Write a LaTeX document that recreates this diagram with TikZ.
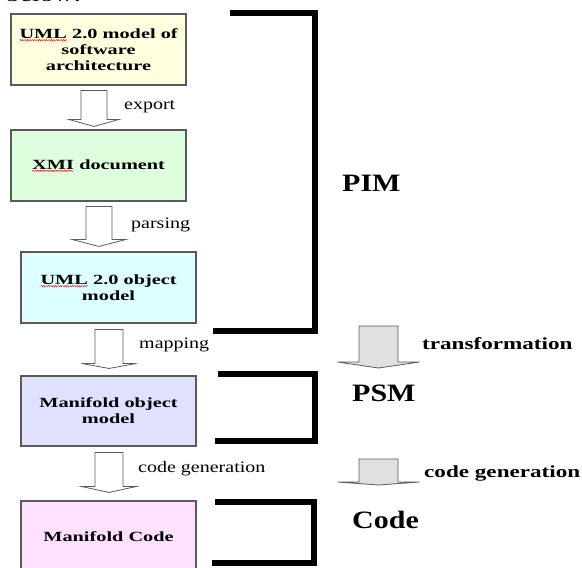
\documentclass[tikz,border=0pt]{standalone}
\usepackage{fontspec}
\setmainfont{Liberation Serif}
\newfontfamily\boxfont{Liberation Serif}[FakeStretch=1.45]
\newfontfamily\lblfont{Liberation Serif}[FakeStretch=1.25]
\newfontfamily\rlblfont{Liberation Serif}[FakeStretch=1.36]
\newfontfamily\bigfont{Liberation Serif}[FakeStretch=1.2]
\usetikzlibrary{calc,decorations.pathmorphing}
\definecolor{cyellow}{RGB}{255,255,224}
\definecolor{cgreen}{RGB}{221,255,221}
\definecolor{ccyan}{RGB}{221,255,255}
\definecolor{cviolet}{RGB}{224,224,255}
\definecolor{cpink}{RGB}{255,224,255}
\definecolor{cgreyarrow}{RGB}{224,224,224}
\definecolor{cborder}{RGB}{90,90,90}
\newcommand\blkarrow[6]{%
  \draw[#1] ($(#2)+(-#4,0)$) -- ($(#2 |- #3)+(-#4,-#6)$) -- ($(#2 |- #3)+(-#5,-#6)$)
    -- (#2 |- #3) -- ($(#2 |- #3)+(#5,-#6)$) -- ($(#2 |- #3)+(#4,-#6)$)
    -- ($(#2)+(#4,0)$) -- cycle;}
\newcommand\spl[1]{\tikz[baseline=(w.base)]{\node[inner sep=0pt,outer sep=0pt,draw=none,fill=none,
   minimum width=0pt,minimum height=0pt,align=left](w){#1};
  \draw[red,line width=0.45pt,decorate,decoration={snake,amplitude=0.6pt,segment length=2.4pt}]
   ([yshift=-1.8pt]w.base west)--([yshift=-1.8pt]w.base east);}}
\tikzset{
  box/.style={draw=cborder, line width=1.1pt, minimum width=175pt, align=center,
    font=\boxfont\bfseries\fontsize{14}{16}\selectfont, inner sep=0pt},
  harrow/.style={draw=cborder, line width=0.8pt, fill=white, line join=miter},
  garrow/.style={draw=cborder, line width=0.8pt, fill=cgreyarrow, line join=miter},
  lbl/.style={anchor=base west, inner sep=0pt, font=\lblfont\fontsize{16}{18}\selectfont},
  rlbl/.style={anchor=base west, inner sep=0pt, font=\rlblfont\bfseries\fontsize{17}{19}\selectfont},
  biglbl/.style={anchor=base west, inner sep=0pt, font=\bigfont\bfseries\fontsize{25}{28}\selectfont},
  brk/.style={line width=6pt, black}
}
\begin{document}
\begin{tikzpicture}[x=1pt,y=-1pt]
\path[use as bounding box] (0,0) rectangle (582,568);
\clip (0,0) rectangle (582,568);
\node[anchor=base west, inner sep=0pt, font=\boxfont\fontsize{19}{21}\selectfont] (below) at (6,1.5) {below:};
% boxes
\node[box, fill=cyellow, minimum height=71pt] (b1) at (98.5,49.5) {\spl{UML} 2.0 model of\\software\\architecture};
\node[box, fill=cgreen, minimum height=71pt] (b2) at (98.5,165.5) {\spl{XMI} document};
\node[box, fill=ccyan, minimum height=71pt] (b3) at (108.5,287.5) {\spl{UML} 2.0 object\\model};
\node[box, fill=cviolet, minimum height=70pt] (b4) at (108.5,411) {Manifold object\\model};
\node[box, fill=cpink, minimum height=72pt] (b5) at (108.5,537) {Manifold Code};
% hollow arrows between boxes
\coordinate (a1s) at ($(b1.south)+(-4.5,5)$);
\coordinate (a1t) at ($(b2.north)+(-4.5,-3)$);
\coordinate (a2s) at ($(b2.south)+(0.5,5)$);
\coordinate (a2t) at ($(b3.north)+(0,-5)$);
\coordinate (a3s) at ($(b3.south)+(0.5,6)$);
\coordinate (a3t) at ($(b4.north)+(0,-7)$);
\coordinate (a4s) at ($(b4.south)+(0.5,6)$);
\coordinate (a4t) at ($(b5.north)+(0,-8)$);
\blkarrow{harrow}{a1s}{a1t}{13}{25}{7}
\blkarrow{harrow}{a2s}{a2t}{13}{27}{7}
\blkarrow{harrow}{a3s}{a3t}{14}{27.5}{5}
\blkarrow{harrow}{a4s}{a4t}{14}{27.5}{6}
% labels of hollow arrows
\node[lbl] (lexport) at (124,109) {export};
\node[lbl] (lparsing) at (131,228) {parsing};
\node[lbl] (lmapping) at (139,348) {mapping};
\node[lbl] (lcodegen) at (138,472) {code generation};
% brackets
\draw[brk] (230,12.7) -- (315,12.7) -- (315,330.5) -- (213,330.5);
\draw[brk] (218,373.7) -- (315,373.7) -- (315,441) -- (215,441);
\draw[brk] (215,502) -- (314,502) -- (314,563) -- (212,563);
\node[biglbl] (pim) at (342,191) {PIM};
\node[biglbl] (psm) at (352,401) {PSM};
\node[biglbl] (code) at (352,528) {Code};
% grey arrows
\coordinate (t1s) at (378.5,326);
\coordinate (t1t) at (378.5,368);
\coordinate (t2s) at (378.5,459);
\coordinate (t2t) at (378.5,485);
\blkarrow{garrow}{t1s}{t1t}{19.5}{41}{6}
\blkarrow{garrow}{t2s}{t2t}{19.5}{41}{3}
\node[rlbl] (ltrans) at (422,349) {transformation};
\node[rlbl] (lcodegen2) at (424,477) {code generation};
\end{tikzpicture}
\end{document}
